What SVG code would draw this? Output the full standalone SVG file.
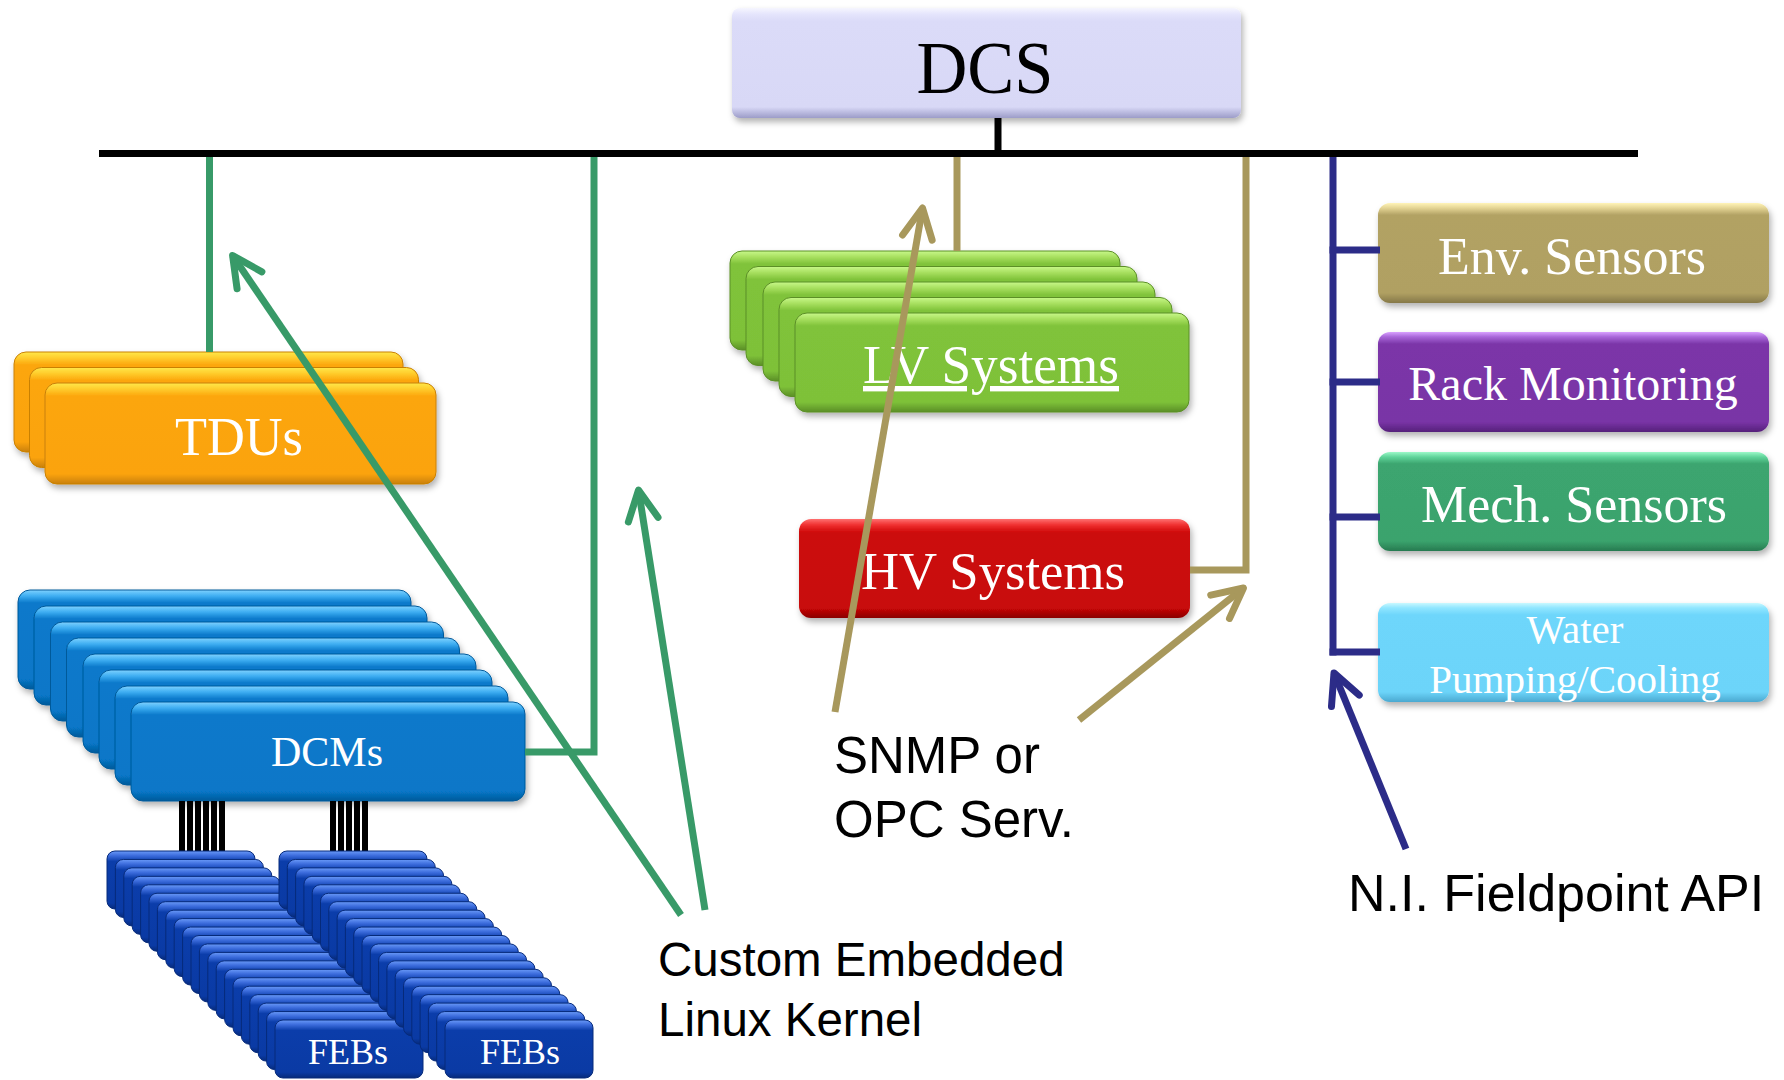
<svg xmlns="http://www.w3.org/2000/svg" width="1784" height="1080" viewBox="0 0 1784 1080">
<style>
.lbl{font-family:"Liberation Serif","Times New Roman",serif;fill:#fff;text-anchor:middle}
.note{font-family:"Liberation Sans",Arial,sans-serif;fill:#000}
.gl{stroke:#389A68;stroke-width:7;fill:none}
.tl{stroke:#A8985C;stroke-width:7;fill:none}
.nl{stroke:#2C2C88;stroke-width:7;fill:none}
.stk{stroke-width:1}
</style>
<defs>
<filter id="sh" x="-10%" y="-10%" width="125%" height="140%">
<feDropShadow dx="2" dy="4" stdDeviation="3" flood-color="#000" flood-opacity="0.3"/>
</filter>
<linearGradient id="gDCS" x1="0" y1="0" x2="0" y2="1"><stop offset="0" stop-color="#F6F6FF"/><stop offset="0.06" stop-color="#E4E4FC"/><stop offset="0.12" stop-color="#DBDBF8"/><stop offset="0.9" stop-color="#D8D8F6"/><stop offset="1" stop-color="#9C9CC8"/></linearGradient>
<linearGradient id="gOr" x1="0" y1="0" x2="0" y2="1"><stop offset="0" stop-color="#FFE84A"/><stop offset="0.06" stop-color="#FFCC2C"/><stop offset="0.13" stop-color="#FCA60C"/><stop offset="0.9" stop-color="#FBA30B"/><stop offset="1" stop-color="#C98006"/></linearGradient>
<linearGradient id="gLV" x1="0" y1="0" x2="0" y2="1"><stop offset="0" stop-color="#C8F88A"/><stop offset="0.06" stop-color="#A8E060"/><stop offset="0.13" stop-color="#80C33A"/><stop offset="0.9" stop-color="#7EC139"/><stop offset="1" stop-color="#5B8F27"/></linearGradient>
<linearGradient id="gHV" x1="0" y1="0" x2="0" y2="1"><stop offset="0" stop-color="#FF7070"/><stop offset="0.06" stop-color="#F03030"/><stop offset="0.14" stop-color="#CC0808"/><stop offset="0.9" stop-color="#C80707"/><stop offset="1" stop-color="#8A0404"/></linearGradient>
<linearGradient id="gDCM" x1="0" y1="0" x2="0" y2="1"><stop offset="0" stop-color="#7FD2FF"/><stop offset="0.06" stop-color="#3FAEF2"/><stop offset="0.13" stop-color="#0879CB"/><stop offset="0.9" stop-color="#0777C8"/><stop offset="1" stop-color="#045A9A"/></linearGradient>
<linearGradient id="gFEB" x1="0" y1="0" x2="0" y2="1"><stop offset="0" stop-color="#6A9AF8"/><stop offset="0.08" stop-color="#3C6CDC"/><stop offset="0.18" stop-color="#0B3DAA"/><stop offset="0.9" stop-color="#0A3AA4"/><stop offset="1" stop-color="#062A7A"/></linearGradient>
<linearGradient id="gEnv" x1="0" y1="0" x2="0" y2="1"><stop offset="0" stop-color="#FFF4B8"/><stop offset="0.05" stop-color="#E4D494"/><stop offset="0.12" stop-color="#B2A264"/><stop offset="0.9" stop-color="#B0A062"/><stop offset="1" stop-color="#857848"/></linearGradient>
<linearGradient id="gRack" x1="0" y1="0" x2="0" y2="1"><stop offset="0" stop-color="#D8A0FF"/><stop offset="0.05" stop-color="#A866D8"/><stop offset="0.12" stop-color="#7B36A8"/><stop offset="0.9" stop-color="#7934A6"/><stop offset="1" stop-color="#55207A"/></linearGradient>
<linearGradient id="gMech" x1="0" y1="0" x2="0" y2="1"><stop offset="0" stop-color="#9CF8C8"/><stop offset="0.05" stop-color="#60D49A"/><stop offset="0.12" stop-color="#3CA56F"/><stop offset="0.9" stop-color="#3AA36D"/><stop offset="1" stop-color="#277A50"/></linearGradient>
<linearGradient id="gWater" x1="0" y1="0" x2="0" y2="1"><stop offset="0" stop-color="#C8F8FF"/><stop offset="0.05" stop-color="#90E6FF"/><stop offset="0.12" stop-color="#6ED6FB"/><stop offset="0.9" stop-color="#6CD4F9"/><stop offset="1" stop-color="#4AA8D0"/></linearGradient>
<marker id="aG" markerUnits="userSpaceOnUse" viewBox="-40 -22 46 44" markerWidth="46" markerHeight="44" refX="0" refY="0" orient="auto"><path d="M-30,-15 L0,0 L-30,15" fill="none" stroke="#389A68" stroke-width="7" stroke-linecap="round" stroke-linejoin="round"/></marker>
<marker id="aT" markerUnits="userSpaceOnUse" viewBox="-40 -22 46 44" markerWidth="46" markerHeight="44" refX="0" refY="0" orient="auto"><path d="M-30,-15 L0,0 L-30,15" fill="none" stroke="#A8985C" stroke-width="7" stroke-linecap="round" stroke-linejoin="round"/></marker>
<marker id="aN" markerUnits="userSpaceOnUse" viewBox="-40 -22 46 44" markerWidth="46" markerHeight="44" refX="0" refY="0" orient="auto"><path d="M-30,-15 L0,0 L-30,15" fill="none" stroke="#2C2C88" stroke-width="7" stroke-linecap="round" stroke-linejoin="round"/></marker>
</defs>
<rect width="1784" height="1080" fill="#fff"/>

<g id="dcs">
<rect x="732" y="8" width="509" height="110" rx="8" fill="url(#gDCS)" filter="url(#sh)"/>
<text x="985" y="93" font-family="Liberation Serif, Times New Roman, serif" font-size="74" fill="#000" text-anchor="middle" textLength="137" lengthAdjust="spacingAndGlyphs">DCS</text>
</g>

<g id="tdus">
<g filter="url(#sh)" stroke="#C98006" class="stk">
<rect x="14" y="352" width="389" height="100" rx="12" fill="url(#gOr)"/>
<rect x="29.5" y="367.5" width="389" height="100" rx="12" fill="url(#gOr)"/>
<rect x="45" y="383" width="391" height="101" rx="12" fill="url(#gOr)"/>
</g>
<text class="lbl" x="239" y="455" font-size="55" textLength="128" lengthAdjust="spacingAndGlyphs">TDUs</text>
</g>

<g id="lv-systems">
<g filter="url(#sh)" stroke="#5B8F27" class="stk">
<rect x="730" y="251" width="390" height="99" rx="12" fill="url(#gLV)"/>
<rect x="746" y="266.5" width="391" height="99" rx="12" fill="url(#gLV)"/>
<rect x="763" y="282" width="392" height="99" rx="12" fill="url(#gLV)"/>
<rect x="779" y="297.5" width="393" height="99" rx="12" fill="url(#gLV)"/>
<rect x="795" y="313" width="394" height="99" rx="12" fill="url(#gLV)"/>
</g>
<text class="lbl" x="991" y="383" font-size="54" textLength="256" lengthAdjust="spacingAndGlyphs" text-decoration="underline">LV Systems</text>
</g>

<g id="hv-systems">
<rect x="799" y="519" width="391" height="99" rx="12" fill="url(#gHV)" filter="url(#sh)"/>
<text class="lbl" x="993" y="589" font-size="53" textLength="264" lengthAdjust="spacingAndGlyphs">HV Systems</text>
</g>

<g id="dcms">
<g filter="url(#sh)" stroke="#045A9A" class="stk">
<rect x="18" y="590" width="393" height="99" rx="12" fill="url(#gDCM)"/>
<rect x="34" y="606" width="393" height="99" rx="12" fill="url(#gDCM)"/>
<rect x="50.5" y="622" width="393" height="99" rx="12" fill="url(#gDCM)"/>
<rect x="66.5" y="638" width="393" height="99" rx="12" fill="url(#gDCM)"/>
<rect x="83" y="654" width="393" height="99" rx="12" fill="url(#gDCM)"/>
<rect x="99" y="670" width="393" height="99" rx="12" fill="url(#gDCM)"/>
<rect x="115" y="686" width="393" height="99" rx="12" fill="url(#gDCM)"/>
<rect x="131" y="702" width="394" height="99" rx="12" fill="url(#gDCM)"/>
</g>
<text class="lbl" x="327" y="766" font-size="42">DCMs</text>
</g>

<g id="feb-links" fill="#000">
<rect x="179" y="801" width="6" height="60"/><rect x="187" y="801" width="6" height="60"/><rect x="195" y="801" width="6" height="60"/><rect x="203" y="801" width="6" height="60"/><rect x="211" y="801" width="6" height="60"/><rect x="219" y="801" width="6" height="60"/>
<rect x="330" y="801" width="6" height="60"/><rect x="338" y="801" width="6" height="60"/><rect x="346" y="801" width="6" height="60"/><rect x="354" y="801" width="6" height="60"/><rect x="362" y="801" width="6" height="60"/>
</g>

<g id="febs-1">
<g stroke="#062A7A" class="stk" fill="url(#gFEB)">
<rect x="107" y="851" width="148" height="58" rx="8"/>
<rect x="115.4" y="859.45" width="148" height="58" rx="8"/>
<rect x="123.8" y="867.9" width="148" height="58" rx="8"/>
<rect x="132.2" y="876.35" width="148" height="58" rx="8"/>
<rect x="140.6" y="884.8" width="148" height="58" rx="8"/>
<rect x="149" y="893.25" width="148" height="58" rx="8"/>
<rect x="157.4" y="901.7" width="148" height="58" rx="8"/>
<rect x="165.8" y="910.15" width="148" height="58" rx="8"/>
<rect x="174.2" y="918.6" width="148" height="58" rx="8"/>
<rect x="182.6" y="927.05" width="148" height="58" rx="8"/>
<rect x="191" y="935.5" width="148" height="58" rx="8"/>
<rect x="199.4" y="943.95" width="148" height="58" rx="8"/>
<rect x="207.8" y="952.4" width="148" height="58" rx="8"/>
<rect x="216.2" y="960.85" width="148" height="58" rx="8"/>
<rect x="224.6" y="969.3" width="148" height="58" rx="8"/>
<rect x="233" y="977.75" width="148" height="58" rx="8"/>
<rect x="241.4" y="986.2" width="148" height="58" rx="8"/>
<rect x="249.8" y="994.65" width="148" height="58" rx="8"/>
<rect x="258.2" y="1003.1" width="148" height="58" rx="8"/>
<rect x="266.6" y="1011.55" width="148" height="58" rx="8"/>
<rect x="275" y="1020" width="148" height="58" rx="8"/>
</g>
<text class="lbl" x="348" y="1064" font-size="36">FEBs</text>
</g>

<g id="febs-2">
<g stroke="#062A7A" class="stk" fill="url(#gFEB)">
<rect x="279" y="851" width="148" height="58" rx="8"/>
<rect x="287.3" y="859.45" width="148" height="58" rx="8"/>
<rect x="295.6" y="867.9" width="148" height="58" rx="8"/>
<rect x="303.9" y="876.35" width="148" height="58" rx="8"/>
<rect x="312.2" y="884.8" width="148" height="58" rx="8"/>
<rect x="320.5" y="893.25" width="148" height="58" rx="8"/>
<rect x="328.8" y="901.7" width="148" height="58" rx="8"/>
<rect x="337.1" y="910.15" width="148" height="58" rx="8"/>
<rect x="345.4" y="918.6" width="148" height="58" rx="8"/>
<rect x="353.7" y="927.05" width="148" height="58" rx="8"/>
<rect x="362" y="935.5" width="148" height="58" rx="8"/>
<rect x="370.3" y="943.95" width="148" height="58" rx="8"/>
<rect x="378.6" y="952.4" width="148" height="58" rx="8"/>
<rect x="386.9" y="960.85" width="148" height="58" rx="8"/>
<rect x="395.2" y="969.3" width="148" height="58" rx="8"/>
<rect x="403.5" y="977.75" width="148" height="58" rx="8"/>
<rect x="411.8" y="986.2" width="148" height="58" rx="8"/>
<rect x="420.1" y="994.65" width="148" height="58" rx="8"/>
<rect x="428.4" y="1003.1" width="148" height="58" rx="8"/>
<rect x="436.7" y="1011.55" width="148" height="58" rx="8"/>
<rect x="445" y="1020" width="148" height="58" rx="8"/>
</g>
<text class="lbl" x="520" y="1064" font-size="36">FEBs</text>
</g>

<g id="env-sensors">
<rect x="1378" y="203" width="391" height="100" rx="12" fill="url(#gEnv)" filter="url(#sh)"/>
<text class="lbl" x="1572" y="274" font-size="52">Env. Sensors</text>
</g>
<g id="rack-monitoring">
<rect x="1378" y="332" width="391" height="100" rx="12" fill="url(#gRack)" filter="url(#sh)"/>
<text class="lbl" x="1573" y="400" font-size="48">Rack Monitoring</text>
</g>
<g id="mech-sensors">
<rect x="1378" y="452" width="391" height="99" rx="12" fill="url(#gMech)" filter="url(#sh)"/>
<text class="lbl" x="1574" y="522" font-size="52">Mech. Sensors</text>
</g>
<g id="water-cooling">
<rect x="1378" y="603" width="391" height="99" rx="12" fill="url(#gWater)" filter="url(#sh)"/>
<text class="lbl" x="1575" y="643" font-size="41">Water</text>
<text class="lbl" x="1575" y="693" font-size="41">Pumping/Cooling</text>
</g>

<g id="connectors">
<line x1="99" y1="153.5" x2="1638" y2="153.5" stroke="#000" stroke-width="7"/>
<line x1="998" y1="118" x2="998" y2="152" stroke="#000" stroke-width="7"/>
<line class="gl" x1="209.5" y1="157" x2="209.5" y2="352"/>
<polyline class="gl" points="525,752 594,752 594,157"/>
<line class="tl" x1="957" y1="157" x2="957" y2="251"/>
<polyline class="tl" points="1190,570 1246,570 1246,157"/>
<line class="nl" x1="1333" y1="157" x2="1333" y2="655.5"/>
<line class="nl" x1="1329.5" y1="250" x2="1380" y2="250" stroke-width="8"/>
<line class="nl" x1="1329.5" y1="382" x2="1380" y2="382" stroke-width="8"/>
<line class="nl" x1="1329.5" y1="517" x2="1380" y2="517" stroke-width="8"/>
<line class="nl" x1="1329.5" y1="652" x2="1380" y2="652" stroke-width="8"/>
<line class="gl" x1="681" y1="915" x2="232.6" y2="255.5" marker-end="url(#aG)"/>
<line class="gl" x1="705" y1="910" x2="638.5" y2="490" marker-end="url(#aG)"/>
<line class="tl" x1="835" y1="712" x2="922.5" y2="208" marker-end="url(#aT)"/>
<line class="tl" x1="1079" y1="720" x2="1243.5" y2="588" marker-end="url(#aT)"/>
<line class="nl" x1="1406" y1="849" x2="1334" y2="673" marker-end="url(#aN)"/>
</g>

<g id="labels">
<text class="note" x="834" y="773" font-size="51">SNMP or</text>
<text class="note" x="834" y="837" font-size="51">OPC Serv.</text>
<text class="note" x="658" y="976" font-size="47.5">Custom Embedded</text>
<text class="note" x="658" y="1036" font-size="47.5">Linux Kernel</text>
<text class="note" x="1348" y="911" font-size="52">N.I. Fieldpoint API</text>
</g>
</svg>
